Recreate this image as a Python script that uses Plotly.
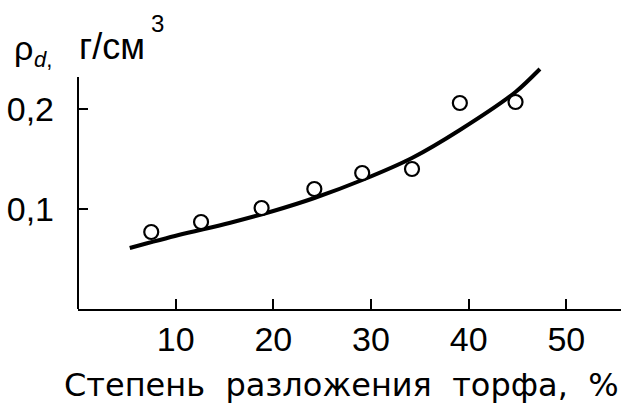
import plotly.graph_objects as go

# Data
obs_x = [7.5, 12.6, 18.8, 24.2, 29.1, 34.2, 39.1, 44.8]
obs_y = [0.077, 0.087, 0.101, 0.120, 0.136, 0.140, 0.206, 0.207]
fit_x = [5.3, 10.3, 15.5, 20.0, 24.2, 29.1, 34.2, 39.1, 44.8, 47.3]
fit_y = [0.061, 0.074, 0.086, 0.098, 0.111, 0.129, 0.151, 0.179, 0.217, 0.240]
x_ticks = [10, 20, 30, 40, 50]
y_ticks = [0.1, 0.2]
y_tick_text = ["0,1", "0,2"]
y_axis_top = 0.232
x_title = "Степень\u00a0 разложения\u00a0 торфа,\u00a0 %"

FONT = "Liberation Sans, Arial, sans-serif"
TFONT = "DejaVu Sans, sans-serif"
FS = 34

fig = go.Figure()
fig.add_trace(go.Scatter(x=fit_x, y=fit_y, mode="lines",
                         line=dict(color="black", width=4, shape="spline", smoothing=0.8),
                         showlegend=False, hoverinfo="skip"))
fig.add_trace(go.Scatter(x=obs_x, y=obs_y, mode="markers",
                         marker=dict(symbol="circle", size=14, color="white",
                                     line=dict(color="black", width=2.2)),
                         showlegend=False))

fig.update_layout(
    width=621, height=405,
    margin=dict(l=78, r=0, t=64, b=96),
    paper_bgcolor="white", plot_bgcolor="white",
    font=dict(family=FONT, size=FS, color="black"),
    xaxis=dict(range=[0, 55.6], tickvals=x_ticks, ticks="inside", ticklen=10,
               tickwidth=2, tickcolor="black", showline=True, linecolor="black",
               linewidth=2, showgrid=False, zeroline=False, ticklabelstandoff=-1,
               automargin=False,
               tickfont=dict(family=FONT, size=FS, color="black")),
    yaxis=dict(range=[0, 0.245], tickvals=y_ticks, ticktext=y_tick_text,
               ticks="inside", ticklen=10, tickwidth=2, tickcolor="black",
               showline=False, showgrid=False, zeroline=False,
               ticklabelstandoff=23, automargin=False,
               tickfont=dict(family=FONT, size=FS, color="black")),
)

# left axis line, stopping at the top of the scale
fig.add_shape(type="line", xref="paper", yref="y", x0=0, x1=0, y0=0, y1=y_axis_top,
              line=dict(color="black", width=2))

# x-axis title
fig.add_annotation(text=x_title, xref="paper", yref="paper", x=1, y=0,
                   xanchor="right", yanchor="top", xshift=0, yshift=-55,
                   showarrow=False, font=dict(family=TFONT, size=32, color="black"))
# y-axis title pieces
fig.add_annotation(text="ρ", xref="paper", yref="paper", x=0, y=1,
                   xanchor="left", yanchor="bottom", xshift=-66, yshift=-5,
                   showarrow=False, font=dict(family=FONT, size=FS, color="black"))
fig.add_annotation(text="<i>d</i>,", xref="paper", yref="paper", x=0, y=1,
                   xanchor="left", yanchor="bottom", xshift=-46, yshift=-10,
                   showarrow=False, font=dict(family=FONT, size=22, color="black"))
fig.add_annotation(text="г/см", xref="paper", yref="paper", x=0, y=1,
                   xanchor="left", yanchor="bottom", xshift=-1, yshift=-5,
                   showarrow=False, font=dict(family=FONT, size=36, color="black"))
fig.add_annotation(text="3", xref="paper", yref="paper", x=0, y=1,
                   xanchor="left", yanchor="bottom", xshift=71, yshift=25,
                   showarrow=False, font=dict(family=FONT, size=24, color="black"))

fig.write_html("out.html", config={"displayModeBar": False},
               post_script="document.body.style.margin='0';"
                           "document.body.style.overflow='hidden';")
